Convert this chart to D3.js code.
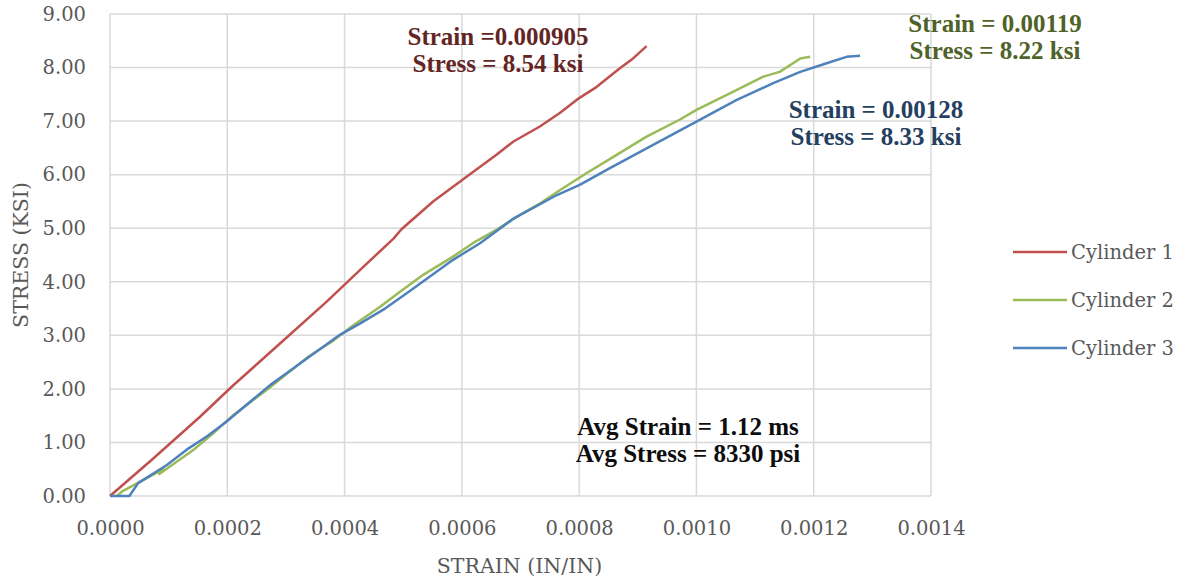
<!DOCTYPE html>
<html>
<head>
<meta charset="utf-8">
<script src="https://cdn.jsdelivr.net/npm/d3@7"></script>
<style>
  body { margin: 0; background: #fff; }
  svg { display: block; }
</style>
</head>
<body>
<div id="viz"></div>
<script>
// strain (in/in) , stress (ksi)
var cyl1Strain = [0, 0.0000738, 0.0001535, 0.0002075, 0.000287, 0.0003695, 0.000432, 0.000483, 0.000497, 0.000551, 0.000608, 0.000659, 0.000688, 0.000733, 0.000767, 0.0008, 0.00083, 0.00087, 0.000892, 0.000915];
var cyl1Stress = [0, 0.70, 1.48, 2.04, 2.82, 3.63, 4.28, 4.80, 4.98, 5.50, 5.96, 6.37, 6.62, 6.90, 7.15, 7.43, 7.64, 7.99, 8.17, 8.40];

var cyl2Strain = [0.000012, 0.00002, 0.000091, 0.000084, 0.000142, 0.000176, 0.00021, 0.000267, 0.000338, 0.000378, 0.000415, 0.00046, 0.000494, 0.000534, 0.000585, 0.00062, 0.000659, 0.000699, 0.000733, 0.000767, 0.000813, 0.000864, 0.000915, 0.000972, 0.001, 0.001063, 0.001114, 0.001142, 0.001177, 0.001194];
var cyl2Stress = [0, 0.08, 0.50, 0.41, 0.86, 1.17, 1.51, 1.98, 2.60, 2.88, 3.19, 3.53, 3.81, 4.13, 4.47, 4.73, 4.97, 5.25, 5.46, 5.71, 6.03, 6.37, 6.71, 7.03, 7.21, 7.55, 7.83, 7.92, 8.17, 8.20];

var cyl3Strain = [0, 0.000033, 0.000048, 0.000097, 0.000134, 0.000165, 0.000199, 0.000239, 0.000273, 0.000301, 0.000392, 0.000426, 0.000469, 0.000509, 0.000585, 0.000631, 0.000688, 0.000762, 0.000801, 0.000847, 0.000915, 0.001, 0.001068, 0.001131, 0.001177, 0.001222, 0.001256, 0.001279];
var cyl3Stress = [0, 0, 0.24, 0.58, 0.89, 1.11, 1.39, 1.76, 2.07, 2.29, 3.01, 3.22, 3.50, 3.81, 4.41, 4.72, 5.18, 5.62, 5.81, 6.09, 6.49, 6.99, 7.39, 7.71, 7.92, 8.08, 8.20, 8.22];

var seriesNames = ["Cylinder 1", "Cylinder 2", "Cylinder 3"];
var seriesColors = ["#C0504D", "#9BBB59", "#4F81BD"];

var xTicks = [0, 0.0002, 0.0004, 0.0006, 0.0008, 0.0010, 0.0012, 0.0014];
var yTicks = [0, 1, 2, 3, 4, 5, 6, 7, 8, 9];

var notes = [
  {lines: ["Strain =0.000905", "Stress = 8.54 ksi"], color: "#632523", x: 498, y: 45},
  {lines: ["Strain = 0.00119", "Stress = 8.22 ksi"], color: "#4F6228", x: 995, y: 32},
  {lines: ["Strain = 0.00128", "Stress = 8.33 ksi"], color: "#243F60", x: 876, y: 118},
  {lines: ["Avg Strain = 1.12 ms", "Avg Stress = 8330 psi"], color: "#0D0D0D", x: 688, y: 435}
];

var W = 1182, H = 580;
var pL = 110, pR = 931, pT = 14, pB = 496;

var svg = d3.select("#viz")
  .append("svg")
  .attr("width", W)
  .attr("height", H);

var x = d3.scaleLinear().domain([0, 0.0014]).range([pL, pR]);
var y = d3.scaleLinear().domain([0, 9]).range([pB, pT]);

// grid
svg.append("g")
  .selectAll("line")
  .data(xTicks)
  .join("line")
  .attr("x1", d => x(d)).attr("x2", d => x(d))
  .attr("y1", pT).attr("y2", pB)
  .attr("stroke", "#D9D9D9")
  .attr("stroke-width", 1.5);

svg.append("g")
  .selectAll("line")
  .data(yTicks)
  .join("line")
  .attr("x1", pL).attr("x2", pR)
  .attr("y1", d => y(d)).attr("y2", d => y(d))
  .attr("stroke", "#D9D9D9")
  .attr("stroke-width", 1.5);

// axes (labels only, the lines are the grid)
var xAxis = svg.append("g")
  .attr("transform", "translate(0," + pB + ")")
  .call(d3.axisBottom(x).tickValues(xTicks).tickFormat(d3.format(".4f")).tickSize(0).tickPadding(25));
var yAxis = svg.append("g")
  .attr("transform", "translate(" + pL + ",0)")
  .call(d3.axisLeft(y).tickValues(yTicks).tickFormat(d3.format(".2f")).tickSize(0).tickPadding(24));

[xAxis, yAxis].forEach(function(a) {
  a.select(".domain").remove();
  a.selectAll("text")
    .attr("fill", "#595959")
    .style("font-family", "'DejaVu Serif', serif")
    .style("font-size", "19.5px");
});

// curves
var line = d3.line()
  .x(d => x(d[0]))
  .y(d => y(d[1]));

var series = [
  d3.zip(cyl1Strain, cyl1Stress),
  d3.zip(cyl2Strain, cyl2Stress),
  d3.zip(cyl3Strain, cyl3Stress)
];

svg.append("g")
  .selectAll("path")
  .data(series)
  .join("path")
  .attr("d", line)
  .attr("fill", "none")
  .attr("stroke", (d, i) => seriesColors[i])
  .attr("stroke-width", 2.5)
  .attr("stroke-linejoin", "round");

// axis titles
svg.append("text")
  .attr("x", (pL + pR) / 2 - 1)
  .attr("y", 573)
  .attr("text-anchor", "middle")
  .attr("fill", "#595959")
  .style("font-family", "'DejaVu Serif', serif")
  .style("font-size", "20.5px")
  .text("STRAIN (IN/IN)");

svg.append("text")
  .attr("transform", "translate(28," + ((pT + pB) / 2) + ") rotate(-90)")
  .attr("text-anchor", "middle")
  .attr("fill", "#595959")
  .style("font-family", "'DejaVu Serif', serif")
  .style("font-size", "20.5px")
  .text("STRESS (KSI)");

// legend
var leg = svg.append("g")
  .selectAll("g")
  .data(seriesNames)
  .join("g")
  .attr("transform", (d, i) => "translate(1013," + (252 + i * 48) + ")");
leg.append("line")
  .attr("x1", 0).attr("x2", 54)
  .attr("stroke", (d, i) => seriesColors[i])
  .attr("stroke-width", 2.5);
leg.append("text")
  .attr("x", 58)
  .attr("dy", "0.35em")
  .attr("fill", "#595959")
  .style("font-family", "'DejaVu Serif', serif")
  .style("font-size", "19.5px")
  .text(d => d);

// annotations
var nt = svg.append("g")
  .selectAll("text")
  .data(notes)
  .join("text")
  .attr("text-anchor", "middle")
  .attr("fill", d => d.color)
  .style("font-family", "'Liberation Serif', serif")
  .style("font-weight", "bold")
  .style("font-size", "25px");
nt.selectAll("tspan")
  .data(d => d.lines.map((t, i) => ({t: t, x: d.x, y: d.y + i * 27})))
  .join("tspan")
  .attr("x", d => d.x)
  .attr("y", d => d.y)
  .text(d => d.t);
</script>
</body>
</html>
